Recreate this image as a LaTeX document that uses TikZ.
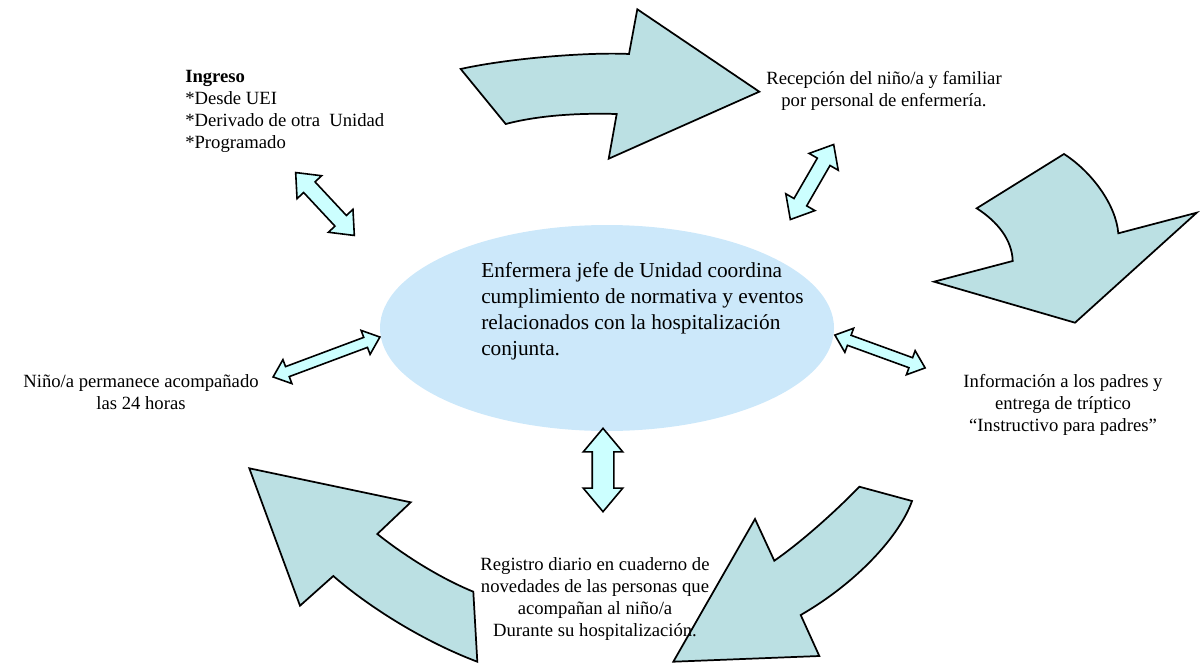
\documentclass[tikz,border=0pt]{standalone}
\usepackage{fontspec}
\setmainfont{Liberation Serif}
\usepackage{tikz}
\usetikzlibrary{shapes.geometric, shapes.arrows}
\definecolor{flecha}{RGB}{187,224,227}
\definecolor{flechadoble}{RGB}{204,255,255}
\definecolor{nube}{RGB}{204,232,250}

\begin{document}
\begin{tikzpicture}[x=0.75pt, y=-0.75pt,
		curva/.style={draw=black, line width=1.3pt, fill=flecha, line join=miter},
		doble/.style={double arrow, draw=black, line width=1.2pt, fill=flechadoble, inner xsep=0pt, text height=0pt, text depth=0pt, double arrow tip angle=80},
		texto/.style={font=\fontsize{14}{16.7}\selectfont, align=center, inner sep=0pt}]
			\useasboundingbox(0, 0)rectangle(1201, 663);
			\node[ellipse, fill=nube, minimum width=340.5pt, minimum height=154.5pt](elipse)at(607, 328){};
			\draw[curva](460.7, 69)--(505.7, 124)..controls(540, 115)and(580, 113)..(616.7, 114)--(608.7, 158.7)--(759.3, 91.7)--(637.3, 9.3)--(629, 54)..controls(590, 52)and(510, 58)..cycle;
			\draw[curva](1064, 154)..controls(1092, 172)and(1116, 205)..(1118.3, 233.3)--(1196.7, 212.7)--(1075, 322.7)--(934, 281.7)--(1012.7, 261)..controls(1012, 240)and(998, 222)..(976.7, 208.3)--cycle;
			\draw[curva](859.3, 486.7)--(912, 501)..controls(900, 535)and(858, 582)..(800.7, 615)--(819.3, 656)--(673.3, 661.7)--(755, 519)--(774.3, 560.7)..controls(800, 543)and(835, 512)..cycle;
			\draw[curva](249.3, 468.3)--(410.7, 502.3)--(377.3, 534)..controls(405, 556)and(440, 578)..(473.3, 591.7)--(477.3, 661.7)..controls(425, 642)and(370, 608)..(333.3, 576)--(300, 605.7)--cycle;
			\node[doble, rotate=-47, minimum height=64.5pt, inner ysep=5.25pt, double arrow head extend=6.75pt](f1)at(325, 204){};
			\node[doble, rotate=60, minimum height=65pt, inner ysep=4.9pt, double arrow head extend=7.1pt](f2)at(812, 182){};
			\node[doble, rotate=20.5, minimum height=85.5pt, inner ysep=3.4pt, double arrow head extend=5.6pt](f3)at(326.5, 357){};
			\node[doble, rotate=-20, minimum height=72pt, inner ysep=3.4pt, double arrow head extend=5.6pt](f4)at(880, 351.5){};
			\node[doble, rotate=90, minimum height=62.5pt, inner ysep=7.5pt, double arrow head extend=6.75pt](f5)at(603, 470){};
			\node[texto, anchor=west, align=left](ingreso)at(185, 111.5){\textbf{Ingreso}\\{*}Desde UEI\\{*}Derivado de otra~~Unidad\\{*}Programado};
			\node[texto](recepcion)at(884, 91){Recepción del niño/a y familiar\\por personal de enfermería.};
			\node[font=\fontsize{16}{19.5}\selectfont, align=left, anchor=west, inner sep=0pt](coordina)at(481, 311){Enfermera jefe de Unidad coordina\\cumplimiento de normativa y eventos\\relacionados con la hospitalización\\conjunta.};
			\node[texto](informacion)at(1063, 405){Información a los padres y\\entrega de tríptico\\“Instructivo para padres”};
			\node[texto](nino)at(141, 392){Niño/a permanece acompañado\\las 24 horas};
			\node[texto](registro)at(595, 599){Registro diario en cuaderno de\\novedades de las personas que\\acompañan al niño/a\\Durante su hospitalización.};
		\end{tikzpicture}
\end{document}
